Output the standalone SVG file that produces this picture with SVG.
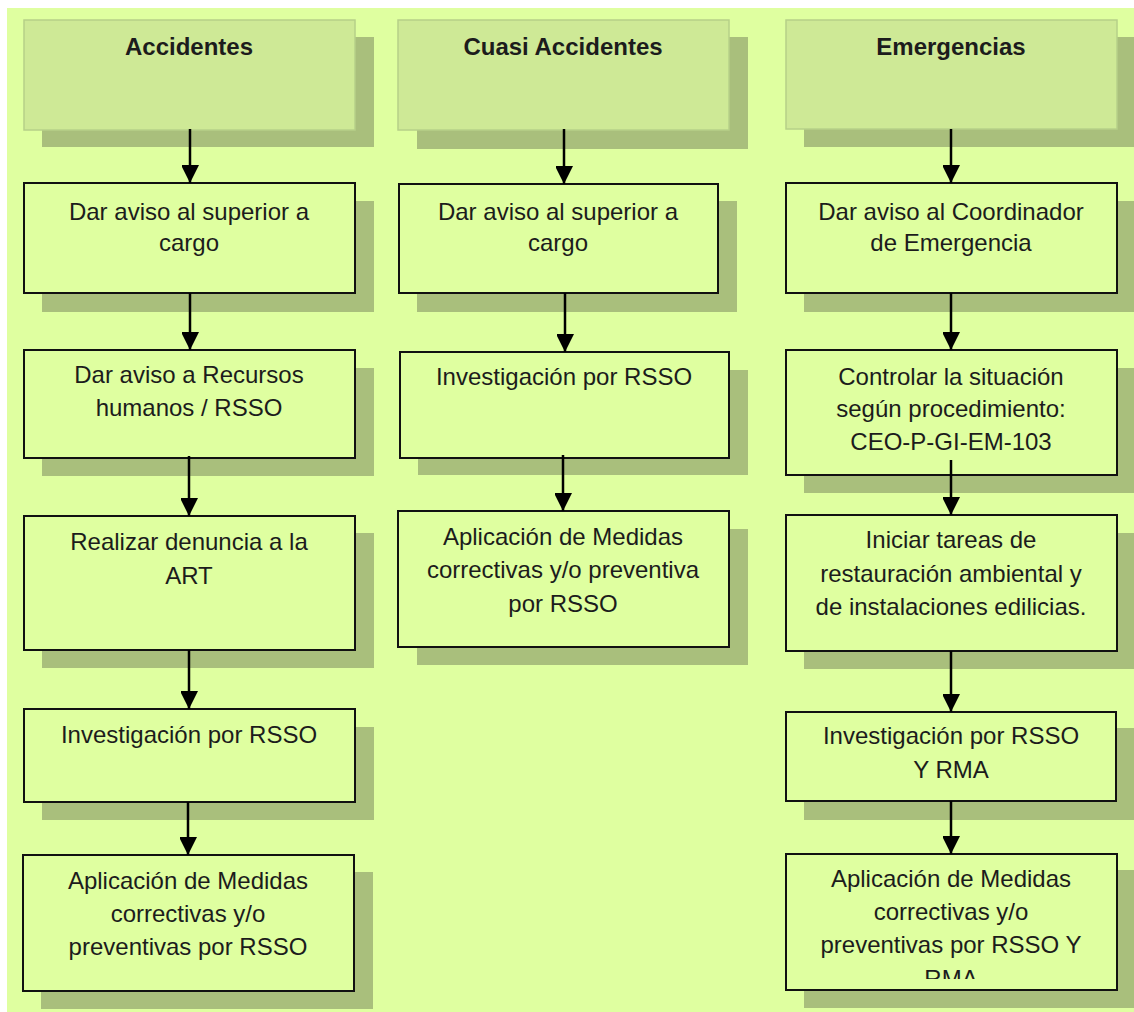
<svg xmlns="http://www.w3.org/2000/svg" width="1134" height="1012" viewBox="0 0 1134 1012">
<defs>
<style>
.bg{fill:#DFFFA0}
.sh{fill:#A9BF7C}
.hd{fill:#CEE996;stroke:#B6D088;stroke-width:1.5}
.bx{fill:#DFFFA0;stroke:#111;stroke-width:2}
.ht{font-family:"Liberation Sans",Arial,sans-serif;font-size:24px;font-weight:bold;fill:#1c1c1c;text-anchor:middle}
.t{font-family:"Liberation Sans",Arial,sans-serif;font-size:24px;fill:#1c1c1c;text-anchor:middle}
.ln{stroke:#000;stroke-width:2.5;fill:none;marker-end:url(#ah)}
</style>
<marker id="ah" viewBox="0 0 18 17" refX="18" refY="9" markerWidth="18" markerHeight="17" markerUnits="userSpaceOnUse" orient="auto">
<path d="M0,0 L18,9 L0,18 Z" fill="#000"/>
</marker>
<clipPath id="clipE5"><rect x="786" y="854" width="331" height="125"/></clipPath>
</defs>
<rect x="0" y="0" width="1134" height="1012" fill="#fff"/>
<rect class="bg" x="7" y="8" width="1127" height="1004"/>

<!-- Column 1: Accidentes -->
<g id="a0">
<rect class="sh" x="42" y="37" width="332" height="110"/>
<rect class="hd" x="24" y="20" width="331" height="110"/>
<text class="ht" x="189" y="55">Accidentes</text>
</g>
<g id="a1">
<rect class="sh" x="42" y="201" width="332" height="111"/>
<rect class="bx" x="24" y="183" width="331" height="110"/>
<text class="t" x="189" y="220">Dar aviso al superior a</text>
<text class="t" x="189" y="251">cargo</text>
</g>
<g id="a2">
<rect class="sh" x="42" y="368" width="332" height="108"/>
<rect class="bx" x="24" y="350" width="331" height="108"/>
<text class="t" x="189" y="383">Dar aviso a Recursos</text>
<text class="t" x="189" y="416">humanos / RSSO</text>
</g>
<g id="a3">
<rect class="sh" x="42" y="533" width="332" height="135"/>
<rect class="bx" x="24" y="516" width="331" height="134"/>
<text class="t" x="189" y="550">Realizar denuncia a la</text>
<text class="t" x="189" y="584">ART</text>
</g>
<g id="a4">
<rect class="sh" x="42" y="727" width="332" height="93"/>
<rect class="bx" x="24" y="709" width="331" height="93"/>
<text class="t" x="189" y="743">Investigación por RSSO</text>
</g>
<g id="a5">
<rect class="sh" x="41" y="872" width="332" height="137"/>
<rect class="bx" x="23" y="855" width="331" height="136"/>
<text class="t" x="188" y="889">Aplicación de Medidas</text>
<text class="t" x="188" y="922">correctivas y/o</text>
<text class="t" x="188" y="955">preventivas por RSSO</text>
</g>

<!-- Column 2: Cuasi Accidentes -->
<g id="c0">
<rect class="sh" x="417" y="37" width="331" height="112"/>
<rect class="hd" x="398" y="20" width="331" height="110"/>
<text class="ht" x="563" y="55">Cuasi Accidentes</text>
</g>
<g id="c1">
<rect class="sh" x="417" y="201" width="320" height="111"/>
<rect class="bx" x="399" y="184" width="319" height="109"/>
<text class="t" x="558" y="220">Dar aviso al superior a</text>
<text class="t" x="558" y="251">cargo</text>
</g>
<g id="c2">
<rect class="sh" x="418" y="370" width="330" height="105"/>
<rect class="bx" x="400" y="352" width="329" height="106"/>
<text class="t" x="564" y="385">Investigación por RSSO</text>
</g>
<g id="c3">
<rect class="sh" x="417" y="529" width="331" height="136"/>
<rect class="bx" x="398" y="511" width="331" height="136"/>
<text class="t" x="563" y="545">Aplicación de Medidas</text>
<text class="t" x="563" y="578">correctivas y/o preventiva</text>
<text class="t" x="563" y="612">por RSSO</text>
</g>

<!-- Column 3: Emergencias -->
<g id="e0">
<rect class="sh" x="804" y="37" width="332" height="110"/>
<rect class="hd" x="786" y="20" width="331" height="109"/>
<text class="ht" x="951" y="55">Emergencias</text>
</g>
<g id="e1">
<rect class="sh" x="804" y="201" width="332" height="111"/>
<rect class="bx" x="786" y="183" width="331" height="110"/>
<text class="t" x="951" y="220">Dar aviso al Coordinador</text>
<text class="t" x="951" y="251">de Emergencia</text>
</g>
<g id="e2">
<rect class="sh" x="804" y="368" width="332" height="125"/>
<rect class="bx" x="786" y="350" width="331" height="125"/>
<text class="t" x="951" y="385">Controlar la situación</text>
<text class="t" x="951" y="417">según procedimiento:</text>
<text class="t" x="951" y="450">CEO-P-GI-EM-103</text>
</g>
<g id="e3">
<rect class="sh" x="804" y="533" width="332" height="136"/>
<rect class="bx" x="786" y="515" width="331" height="136"/>
<text class="t" x="951" y="548">Iniciar tareas de</text>
<text class="t" x="951" y="582">restauración ambiental y</text>
<text class="t" x="951" y="615">de instalaciones edilicias.</text>
</g>
<g id="e4">
<rect class="sh" x="804" y="728" width="332" height="92"/>
<rect class="bx" x="786" y="712" width="330" height="89"/>
<text class="t" x="951" y="744">Investigación por RSSO</text>
<text class="t" x="951" y="778">Y RMA</text>
</g>
<g id="e5">
<rect class="sh" x="804" y="870" width="332" height="138"/>
<rect class="bx" x="786" y="854" width="331" height="136"/>
<g clip-path="url(#clipE5)">
<text class="t" x="951" y="887">Aplicación de Medidas</text>
<text class="t" x="951" y="920">correctivas y/o</text>
<text class="t" x="951" y="953">preventivas por RSSO Y</text>
<text class="t" x="951" y="987">RMA</text>
</g>
</g>

<g id="connectors">
<line class="ln" x1="190" y1="129" x2="190" y2="183"/>
<line class="ln" x1="190" y1="293" x2="190" y2="350"/>
<line class="ln" x1="189" y1="456" x2="189" y2="516"/>
<line class="ln" x1="189" y1="650" x2="189" y2="709"/>
<line class="ln" x1="188" y1="802" x2="188" y2="855"/>
<line class="ln" x1="564" y1="129" x2="564" y2="184"/>
<line class="ln" x1="565" y1="293" x2="565" y2="352"/>
<line class="ln" x1="563" y1="455" x2="563" y2="511"/>
<line class="ln" x1="951" y1="129" x2="951" y2="183"/>
<line class="ln" x1="951" y1="293" x2="951" y2="350"/>
<line class="ln" x1="951" y1="460" x2="951" y2="515"/>
<line class="ln" x1="951" y1="651" x2="951" y2="712"/>
<line class="ln" x1="951" y1="801" x2="951" y2="854"/>
</g>
</svg>
